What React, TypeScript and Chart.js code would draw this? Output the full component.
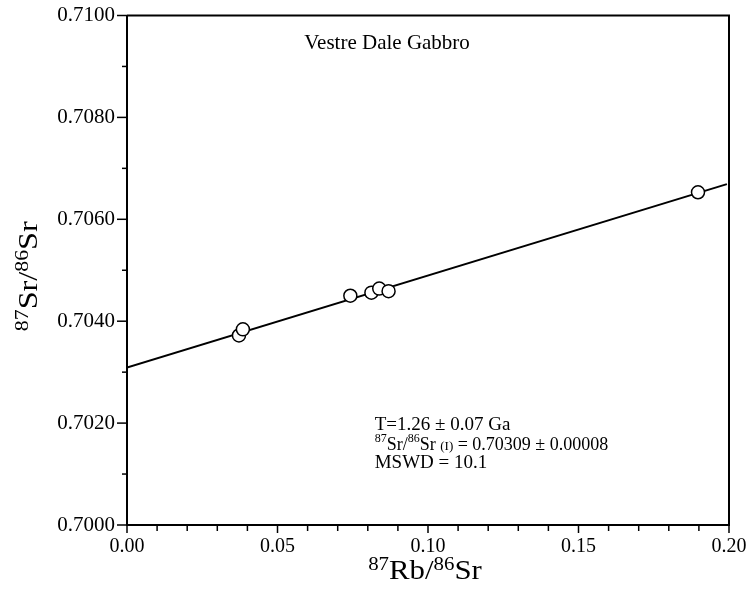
import React, { useEffect, useRef } from "react";
import { Chart, registerables } from "chart.js";

Chart.register(...registerables);

// ---- data ----
const sampleRbSr: number[] = [0.0372, 0.0385, 0.0742, 0.0812, 0.0838, 0.0869, 0.1897];
const sampleSrSr: number[] = [0.70372, 0.70384, 0.7045, 0.70456, 0.70464, 0.70459, 0.70653];
const isochronRbSr: number[] = [0, 0.1993];
const isochronSrSr: number[] = [0.70309, 0.70669];

const xMin = 0;
const xMax = 0.2;
const xLabelEvery = 0.05;
const xTickStep = 0.01;
const yMin = 0.7;
const yMax = 0.71;
const yLabelEvery = 0.002;
const yTickStep = 0.001;

const chartTitle = "Vestre Dale Gabbro";
type Seg = { t: string; kind?: "sup" | "small" };
const xTitle: Seg[] = [{ t: "87", kind: "sup" }, { t: "Rb/" }, { t: "86", kind: "sup" }, { t: "Sr" }];
const yTitle: Seg[] = [{ t: "87", kind: "sup" }, { t: "Sr/" }, { t: "86", kind: "sup" }, { t: "Sr" }];
const annotationLines: Seg[][] = [
  [{ t: "T=1.26 ± 0.07 Ga" }],
  [{ t: "87", kind: "sup" }, { t: "Sr/" }, { t: "86", kind: "sup" }, { t: "Sr " }, { t: "(I)", kind: "small" }, { t: " = 0.70309 ± 0.00008" }],
  [{ t: "MSWD = 10.1" }],
];
// anchor positions (data coordinates) of the text blocks
const titleAnchor = { x: 0.0864, y: 0.709343 };
const annotationX = 0.0823;
const annotationYs = [0.701865, 0.701475, 0.70111];

const FONT = "'Liberation Serif', 'Times New Roman', serif";

function isMultiple(v: number, step: number) {
  const r = v / step;
  return Math.abs(r - Math.round(r)) < 1e-6;
}

function drawRich(
  ctx: CanvasRenderingContext2D,
  segs: Seg[],
  x: number,
  y: number,
  align: "left" | "center",
  size: number,
  supSize: number,
  supRise: number,
  smallSize: number,
  scaleX = 1
) {
  const fontFor = (s: Seg) =>
    `${s.kind === "sup" ? supSize : s.kind === "small" ? smallSize : size}px ${FONT}`;
  let total = 0;
  const widths = segs.map((s) => {
    ctx.font = fontFor(s);
    const w = ctx.measureText(s.t).width;
    total += w;
    return w;
  });
  ctx.save();
  ctx.translate(x, y);
  ctx.scale(scaleX, 1);
  let cx = align === "center" ? -total / 2 : 0;
  ctx.textAlign = "left";
  ctx.textBaseline = "alphabetic";
  ctx.fillStyle = "#000";
  segs.forEach((s, i) => {
    ctx.font = fontFor(s);
    ctx.fillText(s.t, cx, s.kind === "sup" ? -supRise : 0);
    cx += widths[i];
  });
  ctx.restore();
}

const decorPlugin = {
  id: "decor",
  afterDraw(chart: any) {
    const ctx: CanvasRenderingContext2D = chart.ctx;
    const { left, right, top, bottom } = chart.chartArea;
    const xs = chart.scales.x;
    const ys = chart.scales.y;
    ctx.save();
    ctx.strokeStyle = "#000";
    ctx.lineWidth = 2;
    // frame top + right
    ctx.beginPath();
    ctx.moveTo(left, top);
    ctx.lineTo(right, top);
    ctx.lineTo(right, bottom);
    ctx.stroke();
    // ticks
    ctx.lineWidth = 1.5;
    ys.ticks.forEach((t: any) => {
      const py = ys.getPixelForValue(t.value);
      const len = isMultiple(t.value - yMin, yLabelEvery) ? 10 : 5;
      ctx.beginPath();
      ctx.moveTo(left - len, py);
      ctx.lineTo(left, py);
      ctx.stroke();
    });
    xs.ticks.forEach((t: any) => {
      const px = xs.getPixelForValue(t.value);
      const len = isMultiple(t.value - xMin, xLabelEvery) ? 8 : 6;
      ctx.beginPath();
      ctx.moveTo(px, bottom);
      ctx.lineTo(px, bottom + len);
      ctx.stroke();
    });
    ctx.restore();

    // chart title
    ctx.save();
    ctx.font = `21px ${FONT}`;
    ctx.fillStyle = "#000";
    ctx.textAlign = "center";
    ctx.textBaseline = "alphabetic";
    ctx.fillText(chartTitle, xs.getPixelForValue(titleAnchor.x), ys.getPixelForValue(titleAnchor.y));
    ctx.restore();

    // annotation
    const ax = xs.getPixelForValue(annotationX);
    annotationLines.forEach((line, i) => {
      drawRich(ctx, line, ax, ys.getPixelForValue(annotationYs[i]), "left", i === 1 ? 18 : 19, 12, 8, 13);
    });

    // axis titles
    drawRich(ctx, xTitle, (left + right) / 2 - 3, 579, "center", 28, 19, 9, 19, 1.1);
    ctx.save();
    ctx.translate(37, (top + bottom) / 2 + 6);
    ctx.rotate(-Math.PI / 2);
    drawRich(ctx, yTitle, 0, 0, "center", 28, 19, 9, 19, 1.15);
    ctx.restore();
  },
};

export default function App() {
  const ref = useRef<HTMLCanvasElement | null>(null);
  useEffect(() => {
    if (!ref.current) return;
    const chart = new Chart(ref.current, {
      type: "scatter",
      data: {
        datasets: [
          {
            label: "samples",
            data: sampleRbSr.map((x, i) => ({ x, y: sampleSrSr[i] })),
            pointRadius: 6.5,
            pointHoverRadius: 6.5,
            pointBackgroundColor: "#fff",
            pointBorderColor: "#000",
            pointBorderWidth: 1.5,
            showLine: false,
            order: 0,
          },
          {
            label: "isochron",
            data: isochronRbSr.map((x, i) => ({ x, y: isochronSrSr[i] })),
            showLine: true,
            borderColor: "#000",
            borderWidth: 2,
            pointRadius: 0,
            order: 1,
          },
        ],
      },
      options: {
        responsive: false,
        animation: false,
        devicePixelRatio: 1,
        layout: { padding: { left: 0, right: 22, top: 15.5, bottom: 0 } },
        plugins: { legend: { display: false }, tooltip: { enabled: false }, title: { display: false } },
        scales: {
          x: {
            type: "linear",
            min: xMin,
            max: xMax,
            border: { display: true, color: "#000", width: 2 },
            grid: { display: true, drawOnChartArea: false, drawTicks: false },
            ticks: {
              stepSize: xTickStep,
              autoSkip: false,
              maxRotation: 0,
              padding: 10,
              color: "#000",
              font: { family: FONT, size: 20 },
              callback: (v: any) => (isMultiple(Number(v) - xMin, xLabelEvery) ? Number(v).toFixed(2) : ""),
            },
            afterFit: (s: any) => {
              s.height = 596 - 525;
              s.paddingLeft = 0;
              s.paddingRight = 0;
            },
          },
          y: {
            type: "linear",
            min: yMin,
            max: yMax,
            border: { display: true, color: "#000", width: 2 },
            grid: { display: true, drawOnChartArea: false, drawTicks: false },
            ticks: {
              stepSize: yTickStep,
              autoSkip: false,
              padding: 12,
              color: "#000",
              font: { family: FONT, size: 21 },
              callback: (v: any) => (isMultiple(Number(v) - yMin, yLabelEvery) ? Number(v).toFixed(4) : ""),
            },
            afterFit: (s: any) => {
              s.width = 127;
              s.paddingTop = 0;
              s.paddingBottom = 0;
            },
          },
        },
      },
      plugins: [decorPlugin],
    });
    return () => chart.destroy();
  }, []);
  return (
    <div style={{ position: "absolute", left: 0, top: 0, width: 751, height: 596, background: "#fff" }}>
      <canvas ref={ref} width={751} height={596} />
    </div>
  );
}
